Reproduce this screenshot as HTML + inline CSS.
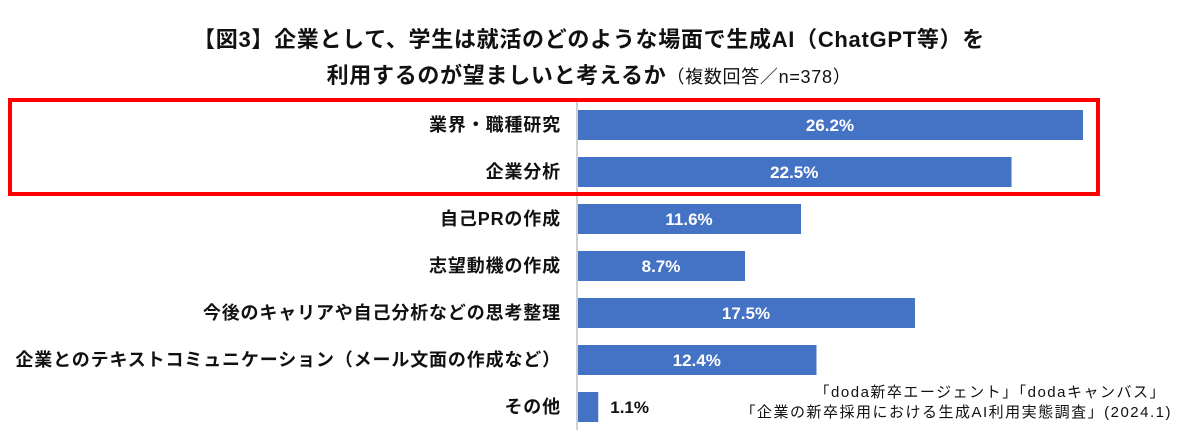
<!DOCTYPE html>
<html><head><meta charset="utf-8">
<style>
body{margin:0;background:#fff;width:1178px;height:441px;overflow:hidden;position:relative;font-family:"Liberation Sans","Noto Sans CJK JP",sans-serif;}
.t{position:absolute;left:0;width:1178px;text-align:center;font-weight:bold;font-size:22px;color:#111;letter-spacing:0.7px;}
.foot{position:absolute;right:6px;font-size:15px;color:#111;white-space:nowrap;letter-spacing:1.5px;}
</style></head><body>
<div class="t" style="top:22px;">【図3】企業として、学生は就活のどのような場面で生成AI（ChatGPT等）を</div>
<div class="t" style="top:58px;">利用するのが望ましいと考えるか<span style="font-weight:normal;font-size:18px;">（複数回答／n=378）</span></div>
<svg id="chart" width="1178" height="441" style="position:absolute;left:0;top:0"></svg>
<div class="foot" style="top:381px;right:12px;">「doda新卒エージェント」「dodaキャンバス」</div>
<div class="foot" style="top:401px;">「企業の新卒採用における生成AI利用実態調査」(2024.1)</div>
<script>
const categories=["業界・職種研究","企業分析","自己PRの作成","志望動機の作成","今後のキャリアや自己分析などの思考整理","企業とのテキストコミュニケーション（メール文面の作成など）","その他"];
const values=[26.2,22.5,11.6,8.7,17.5,12.4,1.1];
const labels=["26.2%","22.5%","11.6%","8.7%","17.5%","12.4%","1.1%"];
const NS="http://www.w3.org/2000/svg";
const svg=document.getElementById('chart');
const x0=577, pxPer=506/26.2, rowTop=110, rowStep=47, barH=30;
const xs=v=>x0+v*pxPer;
const ys=i=>rowTop+i*rowStep;
function mk(tag,attrs){const e=document.createElementNS(NS,tag);for(const k in attrs)e.setAttribute(k,attrs[k]);svg.appendChild(e);return e;}
const ax=mk('line',{x1:x0,x2:x0,y1:101,y2:430,stroke:'#d0d0d0','stroke-width':2});


categories.forEach((c,i)=>{
  const y=ys(i);
  const w=xs(values[i])-x0;
  const r=mk('rect',{x:x0+1,y:y,width:w-1,height:barH,fill:'#4472c4'});
  
  
  const l=mk('text',{x:561,y:y+barH/2+6,'text-anchor':'end','font-size':18,'letter-spacing':0.85,'font-weight':'bold',fill:'#111','font-family':'"Liberation Sans","Noto Sans CJK JP",sans-serif'});
  l.textContent=c;
  
  
  const inside=w>60;
  const v=mk('text',{x:inside?x0+w/2:xs(values[i])+12,y:y+barH/2+6,'text-anchor':inside?'middle':'start','font-size':17,'font-weight':'bold',fill:inside?'#fff':'#111','font-family':'"Liberation Sans",sans-serif'});
  v.textContent=labels[i];
  
  
});
const box=mk('rect',{x:10,y:100,width:1088,height:94,fill:'none',stroke:'#ff0000','stroke-width':4});


</script>
</body></html>
